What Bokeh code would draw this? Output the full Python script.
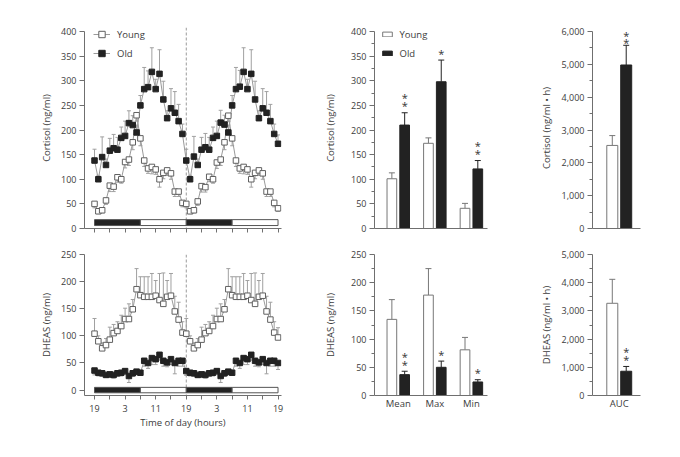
from bokeh.plotting import figure
from bokeh.layouts import column, row
from bokeh.models import (ColumnDataSource, Whisker, TeeHead, Span, FixedTicker,
                          NumeralTickFormatter, Legend, LegendItem, Range1d)
from bokeh.embed import file_html
from bokeh.resources import INLINE
from bokeh.core.properties import value

# ---------------- data ----------------
hours = list(range(49))
time_label_ticks = [0, 8, 16, 24, 32, 40, 48]
time_minor_ticks = [4, 12, 20, 28, 36, 44]
time_tick_labels = ["19", "3", "11", "19", "3", "11", "19"]

phase_start = [0, 12, 24, 36]
phase_end = [12, 24, 36, 48]
phase_dark = [True, False, True, False]

cortisol_young = [50, 35, 37, 57, 87, 85, 104, 100, 135, 140, 175, 230, 183, 138, 122, 125, 120, 100, 113, 118, 112, 75, 75, 52,
                  50, 35, 37, 55, 86, 84, 105, 100, 134, 140, 175, 229, 183, 138, 122, 125, 120, 100, 113, 118, 112, 75, 75, 52, 41]
cortisol_young_err = [8, 5, 5, 8, 12, 10, 10, 8, 12, 12, 15, 12, 15, 12, 10, 14, 10, 16, 12, 10, 12, 10, 10, 8,
                      8, 5, 5, 8, 12, 10, 10, 8, 12, 12, 15, 12, 15, 12, 10, 14, 10, 16, 12, 10, 12, 10, 10, 8, 6]
cortisol_old = [138, 100, 145, 129, 158, 163, 160, 184, 188, 214, 210, 195, 250, 283, 287, 318, 283, 314, 262, 224, 244, 235, 218, 192,
                138, 100, 146, 129, 160, 165, 160, 184, 188, 215, 211, 195, 250, 283, 288, 318, 283, 314, 262, 224, 244, 235, 218, 192, 172]
cortisol_old_err = [23, 8, 41, 12, 25, 28, 25, 22, 30, 25, 19, 15, 20, 44, 33, 49, 20, 49, 37, 15, 40, 43, 34, 20,
                    23, 8, 41, 12, 25, 28, 25, 22, 30, 25, 19, 15, 20, 44, 33, 49, 20, 49, 37, 15, 40, 43, 34, 20, 18]

dheas_young = [104, 90, 77, 83, 93, 105, 109, 118, 131, 131, 149, 186, 175, 172, 172, 172, 174, 166, 159, 172, 174, 145, 130, 106,
               104, 90, 77, 83, 93, 105, 109, 118, 131, 131, 149, 186, 175, 172, 172, 172, 174, 166, 159, 172, 174, 145, 130, 106, 97]
dheas_young_err = [28, 10, 10, 12, 23, 16, 17, 20, 20, 28, 18, 38, 34, 37, 37, 43, 28, 49, 57, 30, 41, 28, 32, 20,
                   28, 10, 10, 12, 23, 16, 17, 20, 20, 28, 18, 38, 34, 37, 37, 43, 28, 49, 57, 30, 41, 28, 32, 20, 18]
dheas_old = [36, 32, 31, 28, 29, 28, 31, 32, 35, 26, 31, 34, 32, 54, 50, 59, 57, 65, 54, 51, 57, 50, 54, 54,
             35, 32, 31, 28, 29, 28, 31, 32, 35, 26, 31, 34, 32, 54, 50, 59, 57, 65, 54, 51, 57, 50, 54, 54, 50]
dheas_old_err = [8, 6, 6, 5, 6, 6, 6, 6, 6, 12, 6, 6, 5, 10, 10, 12, 10, 10, 10, 8, 10, 20, 10, 10,
                 8, 6, 6, 5, 6, 6, 6, 6, 6, 12, 6, 6, 5, 10, 10, 12, 10, 10, 10, 8, 10, 20, 10, 10, 12]

bar_categories = ["Mean", "Max", "Min"]
cort_young_bar = [101, 173, 41]
cort_young_bar_err = [12, 11, 10]
cort_old_bar = [210, 298, 121]
cort_old_bar_err = [25, 44, 17]
cort_sig = ["**", "*", "**"]

dheas_young_bar = [135, 178, 81]
dheas_young_bar_err = [35, 47, 22]
dheas_old_bar = [37, 50, 24]
dheas_old_bar_err = [6, 11, 4]
dheas_sig = ["**", "*", "*"]

auc_category = ["AUC"]
auc_cort_young = [2530]
auc_cort_young_err = [300]
auc_cort_old = [4980]
auc_cort_old_err = [600]
auc_cort_sig = ["**"]

auc_dheas_young = [3270]
auc_dheas_young_err = [850]
auc_dheas_old = [860]
auc_dheas_old_err = [170]
auc_dheas_sig = ["**"]

# ---------------- style ----------------
FONT = "Open Sans"
AXIS = "#6f6f6f"
TXT = "#3c3c3c"
LINE = "#9a9a9a"
ERR = "#a0a0a0"
DARK = "#222222"
TS_X = (-2.62, 48.91)
TOP_H = 238
TOP_PAD = 4          # extra frame room above the top tick (px)
TOP_FRAME = 197
BOTTOM_H = 217


def top_end(v):
    return v * (TOP_FRAME + TOP_PAD) / TOP_FRAME


def base_fig(width, height, xr, yr, borders, label_standoff, ybounds=None):
    l, r, t, b = borders
    p = figure(width=width, height=height, x_range=Range1d(*xr), y_range=Range1d(*yr),
               output_backend="svg", toolbar_location=None, tools="", title=None,
               min_border_left=l, min_border_right=r, min_border_top=t, min_border_bottom=b)
    p.outline_line_color = None
    p.xgrid.visible = False
    p.ygrid.visible = False
    for ax in (p.xaxis[0], p.yaxis[0]):
        ax.axis_line_color = AXIS
        ax.major_tick_line_color = AXIS
        ax.minor_tick_line_color = None
        ax.major_tick_in = 0
        ax.major_tick_out = 5
        ax.major_label_text_font = FONT
        ax.major_label_text_font_size = "9px"
        ax.major_label_text_color = TXT
        ax.axis_label_text_font = FONT
        ax.axis_label_text_font_size = "9.5px"
        ax.axis_label_text_font_style = "normal"
        ax.axis_label_text_color = TXT
        ax.major_label_standoff = 3
    p.yaxis[0].axis_label_standoff = label_standoff
    if ybounds is not None:
        p.yaxis[0].bounds = ybounds
    return p


def time_fig(height, yr, borders, yticks, ylabel, bar_lo, bar_hi, show_x, ybounds=None):
    p = base_fig(300, height, TS_X, yr, borders, 5, ybounds)
    p.yaxis.ticker = FixedTicker(ticks=yticks)
    p.yaxis.axis_label = ylabel
    p.xaxis.major_tick_out = 4
    p.xaxis.minor_tick_line_color = AXIS
    p.xaxis.minor_tick_in = 0
    p.xaxis.minor_tick_out = 4
    if show_x:
        p.xaxis.ticker = FixedTicker(ticks=time_label_ticks, minor_ticks=time_minor_ticks)
        p.xaxis.major_label_overrides = {t: s for t, s in zip(time_label_ticks, time_tick_labels)}
        p.xaxis.major_label_standoff = 5
        p.xaxis.axis_label = "Time of day (hours)"
        p.xaxis.axis_label_standoff = 1
    else:
        p.xaxis.ticker = FixedTicker(ticks=[], minor_ticks=sorted(time_label_ticks + time_minor_ticks))
    span = Span(location=24, dimension="height", line_color="#9a9a9a", line_dash="3 2",
                line_width=1, level="underlay")
    p.add_layout(span)
    src = ColumnDataSource(dict(
        left=phase_start, right=phase_end,
        bottom=[bar_lo] * len(phase_start), top=[bar_hi] * len(phase_start),
        color=[DARK if d else "white" for d in phase_dark]))
    p.quad(left="left", right="right", bottom="bottom", top="top", fill_color="color",
           line_color="#555555", line_width=1, source=src)
    return p


def add_series(p, y, err, down):
    lo = [v - e for v, e in zip(y, err)] if down else list(y)
    hi = list(y) if down else [v + e for v, e in zip(y, err)]
    src = ColumnDataSource(dict(x=hours, y=y, lo=lo, hi=hi))
    ln = p.line("x", "y", source=src, line_color=LINE, line_width=1)
    head = TeeHead(size=4, line_color=ERR, line_width=1)
    w = Whisker(source=src, base="x", lower="lo", upper="hi", dimension="height",
                line_color=ERR, line_width=1, level="underlay",
                lower_head=head if down else None, upper_head=None if down else head)
    p.add_layout(w)
    return src, ln


def add_markers(p, src, filled):
    if filled:
        return p.scatter("x", "y", source=src, marker="square", size=5.5,
                         fill_color=DARK, line_color=DARK, line_width=1)
    return p.scatter("x", "y", source=src, marker="square", size=5.5,
                     fill_color="white", line_color="#606060", line_width=1)


# ---------------- time series, cortisol ----------------
f1 = time_fig(TOP_H, (0, top_end(400)), (84, 19, 31 - TOP_PAD, 10), list(range(0, 401, 50)),
              "Cortisol (ng/ml)", 6, 18, False, ybounds=(0, 400))
sy, ly = add_series(f1, cortisol_young, cortisol_young_err, True)
so, lo_ = add_series(f1, cortisol_old, cortisol_old_err, False)
my = add_markers(f1, sy, False)
mo = add_markers(f1, so, True)
leg1 = Legend(items=[LegendItem(label="Young", renderers=[ly, my]),
                     LegendItem(label="Old", renderers=[lo_, mo])],
              location=(9, 167), padding=0, margin=0, spacing=3,
              glyph_width=17, glyph_height=16, label_height=16, label_standoff=7,
              border_line_color=None, background_fill_alpha=0,
              label_text_font=FONT, label_text_font_size="9.5px", label_text_color=TXT)
f1.add_layout(leg1)

# ---------------- time series, DHEAS ----------------
f2 = time_fig(BOTTOM_H, (-10, 250), (84, 19, 16, BOTTOM_H - 16 - 147), list(range(0, 251, 50)),
              "DHEAS (ng/ml)", -5, 5, True)
sy2, _ = add_series(f2, dheas_young, dheas_young_err, False)
so2, _ = add_series(f2, dheas_old, dheas_old_err, True)
add_markers(f2, sy2, False)
add_markers(f2, so2, True)


# ---------------- bar panels ----------------
def bar_fig(width, height, xr, yr, borders, ymajor, yminor, ylabel, cats, label_standoff,
            young, young_err, old, old_err, sig, bar_w, off, show_x, fmt=False, legend=None,
            star_gap=7, star_step=8, ybounds=None):
    p = base_fig(width, height, xr, yr, borders, label_standoff, ybounds)
    p.yaxis.ticker = FixedTicker(ticks=ymajor, minor_ticks=yminor)
    p.yaxis.minor_tick_line_color = AXIS
    p.yaxis.minor_tick_in = 0
    p.yaxis.minor_tick_out = 3
    p.yaxis.axis_label = ylabel
    if fmt:
        p.yaxis.formatter = NumeralTickFormatter(format="0,0")
    xs = [i + 1 for i in range(len(cats))]
    if show_x:
        p.xaxis.ticker = FixedTicker(ticks=xs)
        p.xaxis.major_label_overrides = {x: c for x, c in zip(xs, cats)}
        p.xaxis.major_tick_out = 0
        p.xaxis.major_label_standoff = 1
        p.xaxis.major_label_text_font_size = "9.5px"
    else:
        p.xaxis.ticker = FixedTicker(ticks=[])
    ys = ColumnDataSource(dict(x=[x - off for x in xs], top=young,
                               hi=[v + e for v, e in zip(young, young_err)]))
    os_ = ColumnDataSource(dict(x=[x + off for x in xs], top=old,
                                hi=[v + e for v, e in zip(old, old_err)]))
    for s, col in ((ys, "#777777"), (os_, "#222222")):
        p.add_layout(Whisker(source=s, base="x", lower="top", upper="hi", dimension="height",
                             line_color=col, line_width=1, level="underlay", lower_head=None,
                             upper_head=TeeHead(size=6, line_color=col, line_width=1)))
    ry = p.vbar(x="x", top="top", width=bar_w, bottom=0, source=ys,
                fill_color="white", line_color="#777777", line_width=1)
    ro = p.vbar(x="x", top="top", width=bar_w, bottom=0, source=os_,
                fill_color=DARK, line_color=DARK, line_width=1)
    sx, sy_, st, so_ = [], [], [], []
    for i, s in enumerate(sig):
        for k, ch in enumerate(s):
            sx.append(xs[i] + off)
            sy_.append(old[i] + old_err[i])
            st.append(ch)
            so_.append(-(star_gap + star_step * k))
    p.text(x="x", y="y", text="t", y_offset="o",
           source=ColumnDataSource(dict(x=sx, y=sy_, t=st, o=so_)),
           text_font=value(FONT), text_font_size="11px", text_align="center",
           text_baseline="middle", text_color="#333333")
    if legend:
        leg = Legend(items=[LegendItem(label="Young", renderers=[ry]),
                            LegendItem(label="Old", renderers=[ro])],
                     location=legend, padding=0, margin=0, spacing=3,
                     glyph_width=12, glyph_height=6, label_height=16, label_standoff=7,
                     border_line_color=None, background_fill_alpha=0,
                     label_text_font=FONT, label_text_font_size="9.5px", label_text_color=TXT)
        p.add_layout(leg)
    return p


mid_x = (0.35, 3.44)
auc_x = (0.27, 1.58)
f3 = bar_fig(200, TOP_H, mid_x, (0, top_end(400)), (74, 13, 31 - TOP_PAD, 10), list(range(0, 401, 50)),
             list(range(25, 400, 50)), "Cortisol (ng/ml)", bar_categories, 11,
             cort_young_bar, cort_young_bar_err, cort_old_bar, cort_old_bar_err, cort_sig,
             0.265, 0.175, False, legend=(6.5, 167), ybounds=(0, 400))
f4 = bar_fig(200, BOTTOM_H, mid_x, (0, 250), (74, 13, 16, BOTTOM_H - 16 - 141), list(range(0, 251, 50)),
             list(range(25, 250, 50)), "DHEAS (ng/ml)", bar_categories, 11,
             dheas_young_bar, dheas_young_bar_err, dheas_old_bar, dheas_old_bar_err, dheas_sig,
             0.265, 0.175, True)
f5 = bar_fig(160, TOP_H, auc_x, (0, top_end(6000)), (92, 20, 31 - TOP_PAD, 10), list(range(0, 6001, 1000)),
             list(range(500, 6000, 1000)), "Cortisol (ng/ml \u2022 h)", auc_category, 6,
             auc_cort_young, auc_cort_young_err, auc_cort_old, auc_cort_old_err, auc_cort_sig,
             0.3, 0.19, False, fmt=True, star_gap=3, star_step=7, ybounds=(0, 6000))
f6 = bar_fig(160, BOTTOM_H, auc_x, (0, 5000), (92, 20, 16, BOTTOM_H - 16 - 141), list(range(0, 5001, 1000)),
             list(range(500, 5000, 1000)), "DHEAS (ng/ml \u2022 h)", auc_category, 6,
             auc_dheas_young, auc_dheas_young_err, auc_dheas_old, auc_dheas_old_err, auc_dheas_sig,
             0.3, 0.19, True, fmt=True)

layout = column(row(f1, f3, f5), row(f2, f4, f6))
open("out.html", "w").write(file_html(layout, INLINE))
